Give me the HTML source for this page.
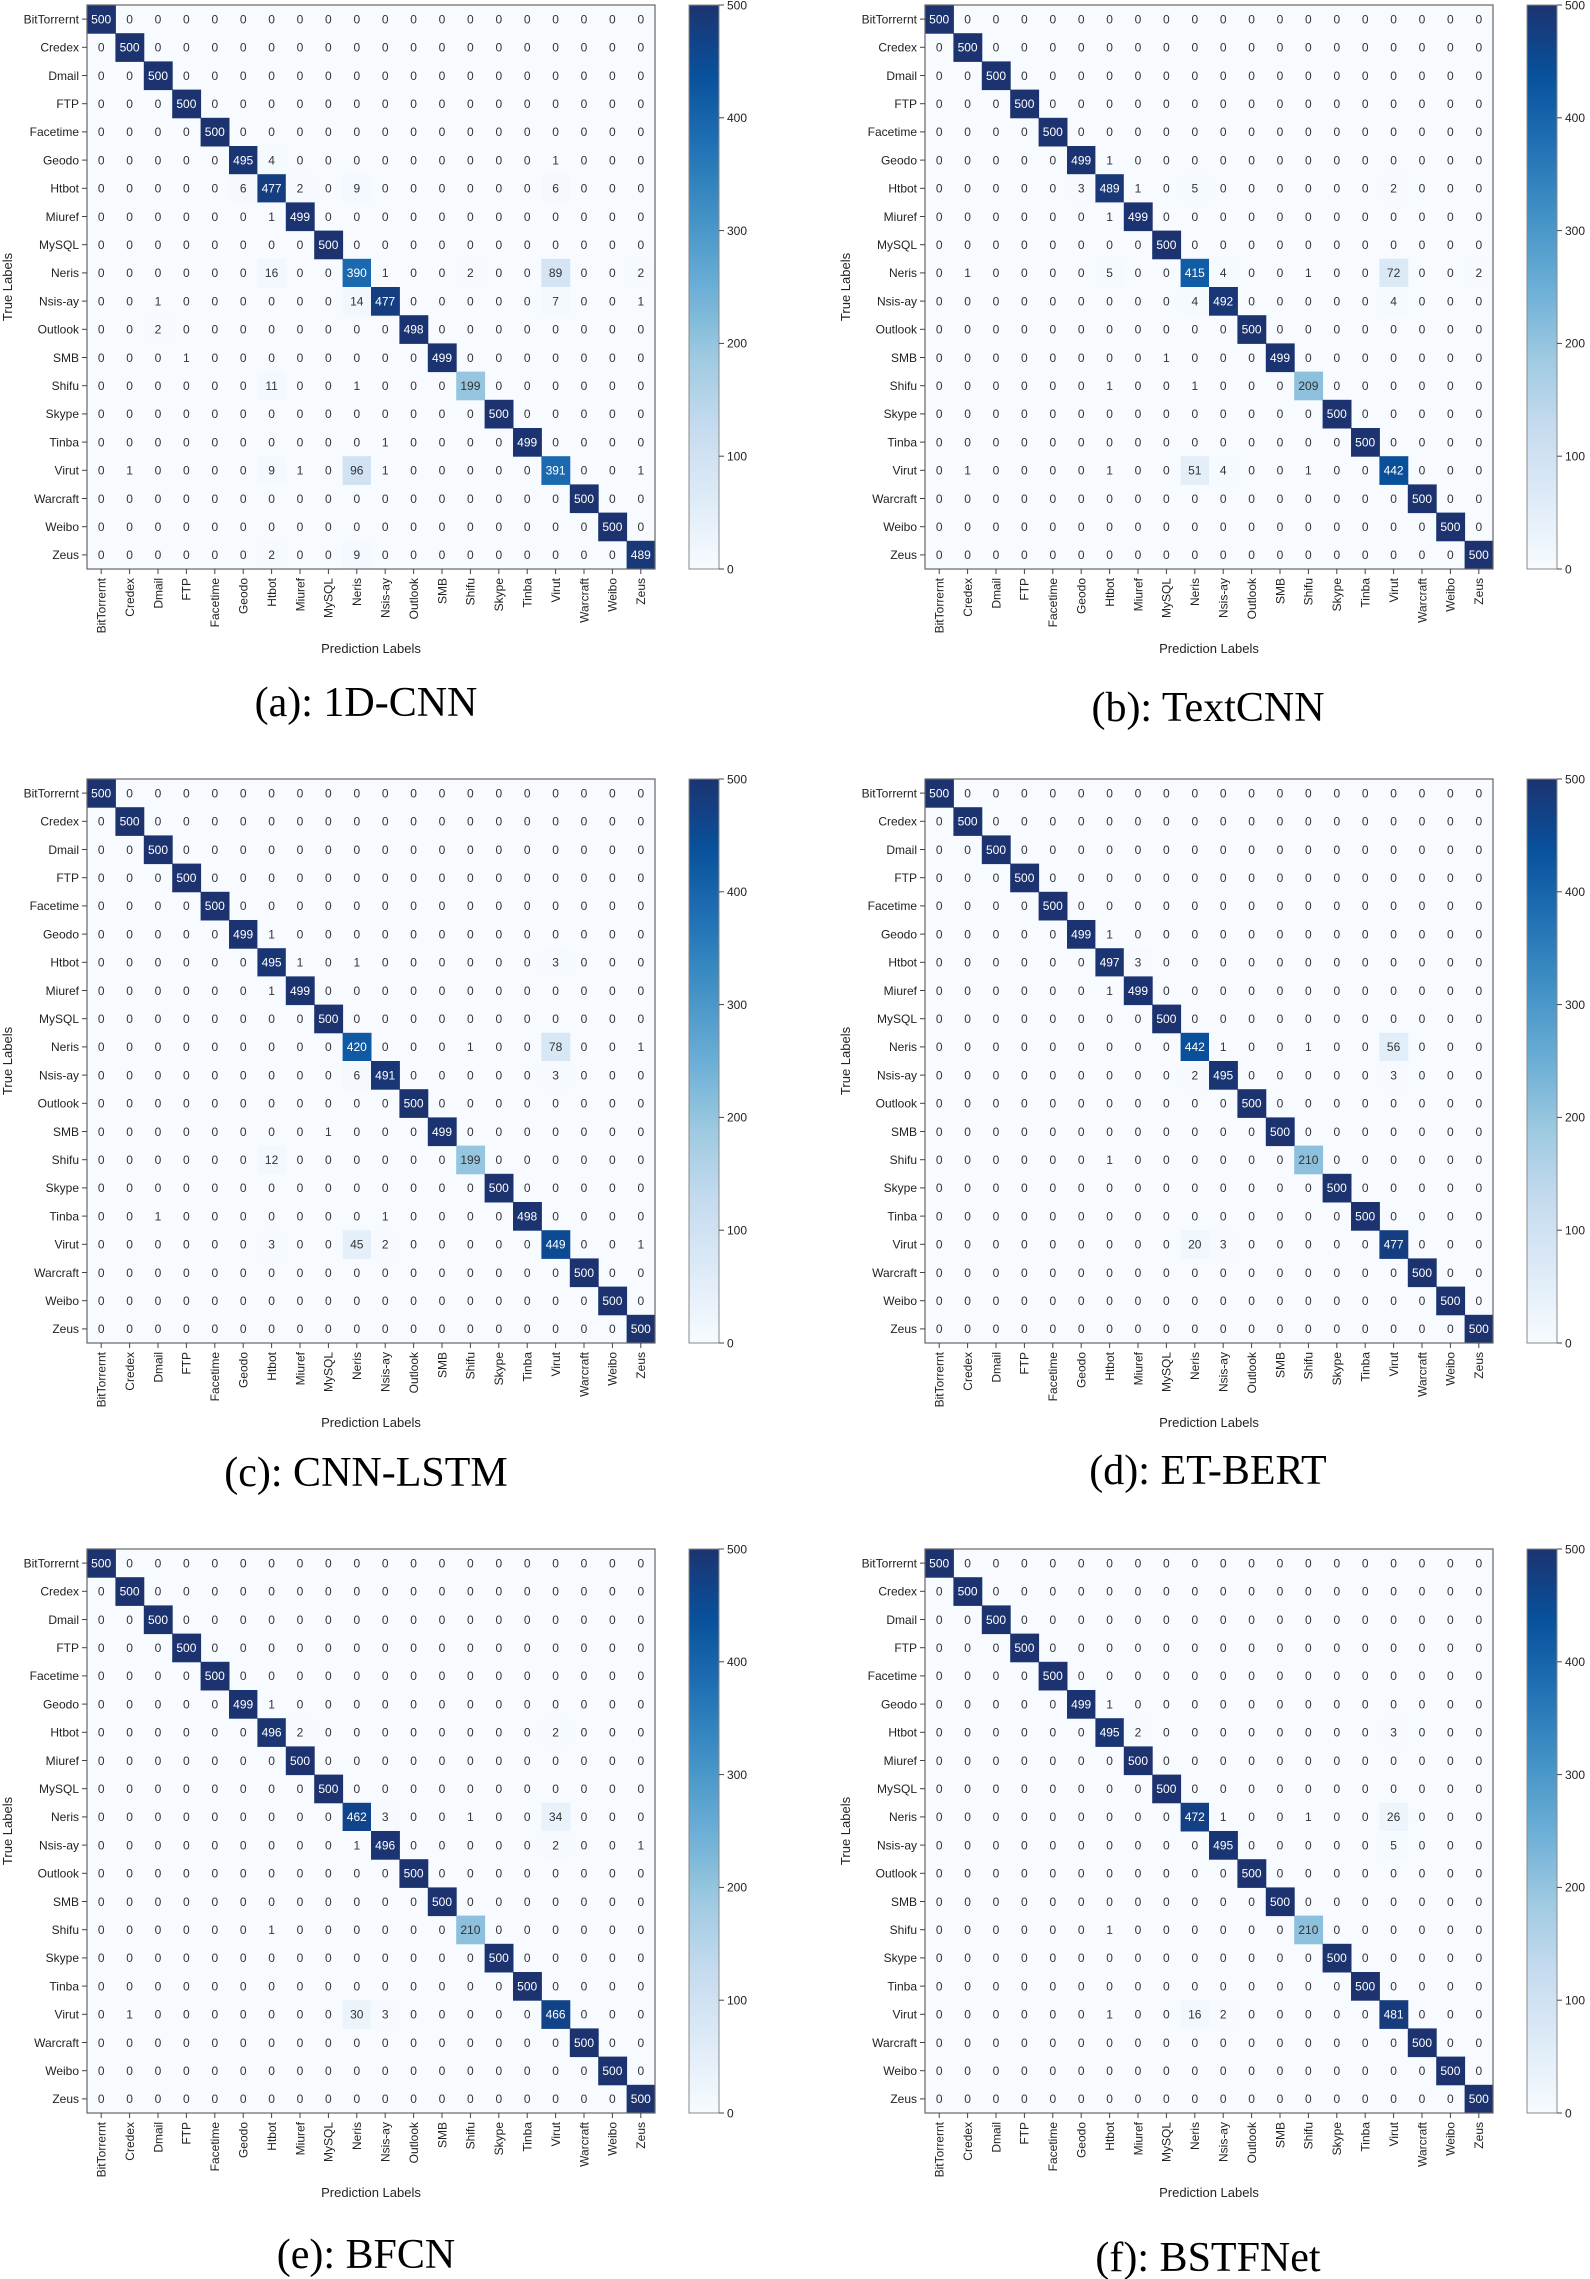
<!DOCTYPE html>
<html><head><meta charset="utf-8"><style>
html,body{margin:0;padding:0;background:#fff;}
svg{display:block;}
</style></head><body>
<svg id="s" xmlns="http://www.w3.org/2000/svg" width="1590" height="2279" viewBox="0 0 1590 2279">
<defs>
<linearGradient id="cb" x1="0" y1="1" x2="0" y2="0">
<stop offset="0" stop-color="#f7fbff"/><stop offset="0.125" stop-color="#deebf7"/><stop offset="0.25" stop-color="#c6dbef"/><stop offset="0.375" stop-color="#9ecae1"/><stop offset="0.5" stop-color="#6baed6"/><stop offset="0.625" stop-color="#4292c6"/><stop offset="0.75" stop-color="#2171b5"/><stop offset="0.875" stop-color="#08519c"/><stop offset="1" stop-color="#1c3370"/>
</linearGradient>
</defs>
<g font-family="Liberation Serif, serif" font-size="42" fill="#000" text-anchor="middle">
<text x="366" y="716">(a): 1D-CNN</text>
<text x="1208" y="721">(b): TextCNN</text>
<text x="366" y="1486">(c): CNN-LSTM</text>
<text x="1208" y="1484">(d): ET-BERT</text>
<text x="366" y="2268">(e): BFCN</text>
<text x="1208" y="2271">(f): BSTFNet</text>
</g>
</svg>
<script>
var L=["BitTorrernt","Credex","Dmail","FTP","Facetime","Geodo","Htbot","Miuref","MySQL","Neris","Nsis-ay","Outlook","SMB","Shifu","Skype","Tinba","Virut","Warcraft","Weibo","Zeus"];
var P=[
{ox:87,oy:5,d:[500,500,500,500,500,495,477,499,500,390,477,498,499,199,500,499,391,500,500,489],
o:[[5,6,4],[5,16,1],[6,5,6],[6,7,2],[6,9,9],[6,16,6],[7,6,1],[9,6,16],[9,10,1],[9,13,2],[9,16,89],[9,19,2],[10,2,1],[10,9,14],[10,16,7],[10,19,1],[11,2,2],[12,3,1],[13,6,11],[13,9,1],[15,10,1],[16,1,1],[16,6,9],[16,7,1],[16,9,96],[16,10,1],[16,19,1],[19,6,2],[19,9,9]]},
{ox:925,oy:5,d:[500,500,500,500,500,499,489,499,500,415,492,500,499,209,500,500,442,500,500,500],
o:[[5,6,1],[6,5,3],[6,7,1],[6,9,5],[6,16,2],[7,6,1],[9,1,1],[9,6,5],[9,10,4],[9,13,1],[9,16,72],[9,19,2],[10,9,4],[10,16,4],[12,8,1],[13,6,1],[13,9,1],[16,1,1],[16,6,1],[16,9,51],[16,10,4],[16,13,1]]},
{ox:87,oy:779,d:[500,500,500,500,500,499,495,499,500,420,491,500,499,199,500,498,449,500,500,500],
o:[[5,6,1],[6,7,1],[6,9,1],[6,16,3],[7,6,1],[9,13,1],[9,16,78],[9,19,1],[10,9,6],[10,16,3],[12,8,1],[13,6,12],[15,2,1],[15,10,1],[16,6,3],[16,9,45],[16,10,2],[16,19,1]]},
{ox:925,oy:779,d:[500,500,500,500,500,499,497,499,500,442,495,500,500,210,500,500,477,500,500,500],
o:[[5,6,1],[6,7,3],[7,6,1],[9,10,1],[9,13,1],[9,16,56],[10,9,2],[10,16,3],[13,6,1],[16,9,20],[16,10,3]]},
{ox:87,oy:1549,d:[500,500,500,500,500,499,496,500,500,462,496,500,500,210,500,500,466,500,500,500],
o:[[5,6,1],[6,7,2],[6,16,2],[9,10,3],[9,13,1],[9,16,34],[10,9,1],[10,16,2],[10,19,1],[13,6,1],[16,1,1],[16,9,30],[16,10,3]]},
{ox:925,oy:1549,d:[500,500,500,500,500,499,495,500,500,472,495,500,500,210,500,500,481,500,500,500],
o:[[5,6,1],[6,7,2],[6,16,3],[9,10,1],[9,13,1],[9,16,26],[10,16,5],[13,6,1],[16,6,1],[16,9,16],[16,10,2]]}
];
var ST=[[0,[247,251,255]],[.125,[222,235,247]],[.25,[198,219,239]],[.375,[158,202,225]],[.5,[107,174,214]],[.625,[66,146,198]],[.75,[33,113,181]],[.875,[8,81,156]],[1,[28,51,112]]];
function col(v){var t=v/500;for(var i=1;i<ST.length;i++){if(t<=ST[i][0]){var a=ST[i-1],b=ST[i],f=(t-a[0])/(b[0]-a[0]);var c=[0,1,2].map(function(k){return Math.round(a[1][k]+(b[1][k]-a[1][k])*f)});return "rgb("+c.join(",")+")";}}return "rgb(28,51,112)";}
var h=[];var CW=28.4,CH=28.2,W=CW*20,H=CH*20;
P.forEach(function(p){
 var m=[];for(var i=0;i<20;i++){m.push([]);for(var j=0;j<20;j++)m[i].push(0);m[i][i]=p.d[i];}
 p.o.forEach(function(e){m[e[0]][e[1]]=e[2];});
 var ox=p.ox,oy=p.oy;
 h.push('<rect x="'+ox+'" y="'+oy+'" width="'+W+'" height="'+H+'" fill="#f7fbff"/>');
 for(var i=0;i<20;i++)for(var j=0;j<20;j++){var v=m[i][j];var x=ox+j*CW,y=oy+i*CH;
  if(v>0)h.push('<rect x="'+x.toFixed(1)+'" y="'+y.toFixed(1)+'" width="'+(CW+0.5)+'" height="'+(CH+0.5)+'" fill="'+col(v)+'"/>');
  h.push('<text x="'+(x+CW/2).toFixed(1)+'" y="'+(y+CH/2+4.3).toFixed(1)+'" text-anchor="middle" font-size="12" fill="'+(v>=250?'#ffffff':'#333333')+'">'+v+'</text>');}
 h.push('<rect x="'+ox+'" y="'+oy+'" width="'+W+'" height="'+H+'" fill="none" stroke="#666" stroke-width="1.2"/>');
 for(var i=0;i<20;i++){var cy=oy+i*CH+CH/2,cx=ox+i*CW+CW/2;
  h.push('<line x1="'+(ox-5)+'" y1="'+cy+'" x2="'+ox+'" y2="'+cy+'" stroke="#444"/>');
  h.push('<text x="'+(ox-8)+'" y="'+(cy+4.3)+'" text-anchor="end" font-size="12" fill="#222">'+L[i]+'</text>');
  h.push('<line x1="'+cx+'" y1="'+(oy+H)+'" x2="'+cx+'" y2="'+(oy+H+5)+'" stroke="#444"/>');
  h.push('<text transform="translate('+(cx+4.3)+','+(oy+H+9)+') rotate(-90)" text-anchor="end" font-size="12" fill="#222">'+L[i]+'</text>');}
 h.push('<text x="'+(ox+W/2)+'" y="'+(oy+H+84)+'" text-anchor="middle" font-size="13" fill="#222">Prediction Labels</text>');
 h.push('<text transform="translate('+(ox-75)+','+(oy+H/2)+') rotate(-90)" text-anchor="middle" font-size="13" fill="#222">True Labels</text>');
 var cx0=ox+602;
 h.push('<rect x="'+cx0+'" y="'+oy+'" width="30" height="'+H+'" fill="url(#cb)" stroke="#888" stroke-width="1"/>');
 for(var k=0;k<=5;k++){var ty=oy+H-H*k/5;
  h.push('<line x1="'+(cx0+30)+'" y1="'+ty+'" x2="'+(cx0+35)+'" y2="'+ty+'" stroke="#444"/>');
  h.push('<text x="'+(cx0+38)+'" y="'+(ty+4.3)+'" font-size="12" fill="#222">'+(k*100)+'</text>');}
});
var s=document.getElementById('s');
var g=document.createElementNS('http://www.w3.org/2000/svg','g');
g.setAttribute('font-family','Liberation Sans, sans-serif');
g.innerHTML=h.join('');
s.appendChild(g);
</script>
</body></html>
